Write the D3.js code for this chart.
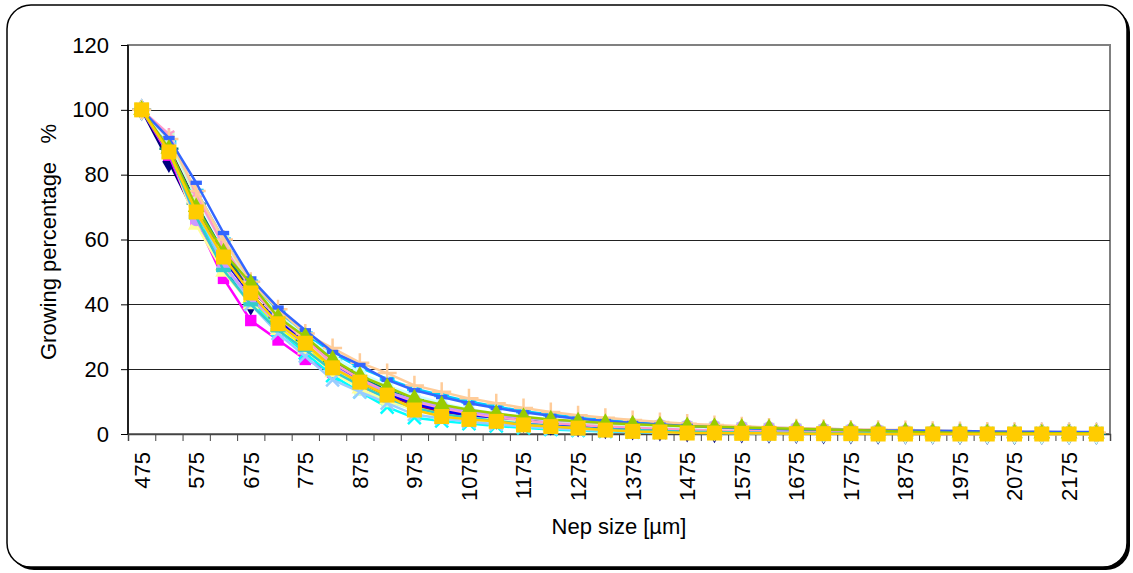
<!DOCTYPE html>
<html>
<head>
<meta charset="utf-8">
<script src="https://cdn.jsdelivr.net/npm/d3@7"></script>
<style>
  body { margin:0; background:#fff; }
  svg { font-family: "Liberation Sans", Arial, sans-serif; }
  .axis text { font-size:22px; fill:#000; }
</style>
</head>
<body>
<div id="canvas"></div>
<script>
// categories (nep size, micrometre)
var cats = [475,525,575,625,675,725,775,825,875,925,975,1025,1075,1125,1175,1225,1275,1325,1375,1425,
            1475,1525,1575,1625,1675,1725,1775,1825,1875,1925,1975,2025,2075,2125,2175,2225];
var yTicks = [0,20,40,60,80,100,120];

// growing percentage, one array per sample
var s01 = [100,84,67,51,40,36,27,21,16,12.5,9.5,7.5,6,4.8,3.8,3,2.4,1.9,1.5,1.2,0.9,0.7,0.6,0.5,0.4,0.3,0.3,0.2,0.2,0.2,0.1,0.1,0.1,0.1,0.1,0.1];
var s02 = [100,86,66,48,35,29,23,19,14.5,11,8,6,4.8,3.8,3,2.3,1.8,1.4,1.1,0.8,0.6,0.5,0.4,0.3,0.2,0.2,0.1,0.1,0.1,0,0,0,0,0,0,0];
var s03 = [100,88,70,52,42,33,27,20,15,11.5,8.5,6.5,5.2,4.2,3.2,2.5,2,1.6,1.2,1,0.8,0.6,0.5,0.4,0.3,0.3,0.2,0.2,0.1,0.1,0.1,0.1,0,0,0,0];
var s04 = [100,87,68,52,41,32,25,18,13,8.3,5,4,3.2,2.5,1.9,1.4,1.1,0.8,0.6,0.5,0.4,0.3,0.3,0.2,0.2,0.2,0.1,0.1,0.1,0.1,0.1,0.1,0.1,0.1,0.1,0.1];
var s05 = [100,88,70,54,43,35,28,21,16,12,9,7,5.5,4.5,3.5,2.8,2.2,1.8,1.4,1.1,0.9,0.7,0.6,0.5,0.4,0.3,0.3,0.2,0.2,0.2,0.1,0.1,0.1,0.1,0.1,0.1];
var s06 = [100,89,71,55,44,37.6,29,22,17,13,10,7.8,6.2,5,4,3.2,2.6,2.1,1.7,1.4,1.1,0.9,0.7,0.6,0.5,0.4,0.3,0.3,0.2,0.2,0.2,0.1,0.1,0.1,0.1,0.1];
var s07 = [100,88,71,56,45,36,29,22.5,17.5,13.5,10.5,8.2,6.5,5.3,4.3,3.5,2.8,2.3,1.9,1.5,1.2,1,0.8,0.7,0.6,0.5,0.4,0.3,0.3,0.2,0.2,0.2,0.1,0.1,0.1,0.1];
var s08 = [100,87,70,54,43,35,28,21.5,16.5,12.5,9.5,7.3,5.8,4.6,3.7,2.9,2.3,1.9,1.5,1.2,1,0.8,0.7,0.6,0.5,0.4,0.4,0.3,0.3,0.3,0.2,0.2,0.2,0.2,0.2,0.2];
var s09 = [100,90,75,60,47,38,31,25,20.5,17,14,12,10,8.5,7,6,5,4.3,3.6,3,2.5,2.1,1.8,1.5,1.3,1.1,1,0.9,0.8,0.7,0.6,0.5,0.5,0.4,0.4,0.3];
var s10 = [100,90,73,58,46,37,30,24,19,15,12,9.5,7.7,6.3,5.1,4.2,3.4,2.8,2.3,1.9,1.5,1.2,1,0.8,0.7,0.6,0.5,0.4,0.3,0.3,0.2,0.2,0.2,0.1,0.1,0.1];
var s11 = [100,91.5,73,60,46,37,29,21,13.5,10,7.5,6,5,4.3,3.8,3.4,3.1,2.9,2.7,2.5,2.3,2.1,1.9,1.7,1.5,1.3,1.1,0.9,0.8,0.7,0.6,0.5,0.4,0.3,0.2,0.2];
var s12 = [100,88,64.5,50,40,32,26,19,14,10.5,7.5,5.8,4.6,3.6,2.8,2.2,1.7,1.3,1,0.8,0.6,0.5,0.4,0.3,0.2,0.2,0.1,0.1,0.1,0.1,0,0,0,0,0,0];
var s13 = [100,88,69,53,40,31,24,16.7,13,9.5,6,4.8,3.8,3,2.3,1.7,1.3,1,0.7,0.5,0.4,0.3,0.2,0.2,0.1,0.1,0.1,0.1,0,0,0,0,0,0,0,0];
var s14 = [100,92.5,74,58,45,36,29,22,17,13,10,8,6.4,5.2,4.2,3.4,2.8,2.3,1.9,1.6,1.3,1.1,0.9,0.8,0.7,0.6,0.5,0.4,0.4,0.3,0.3,0.2,0.2,0.2,0.2,0.2];
var s15 = [100,88,66,52,42,34,27.5,21,16,13,10.5,8.5,7,5.8,5,4.3,3.8,3.4,3.1,2.8,2.6,2.4,2.2,2,1.8,1.6,1.4,1.2,1,0.8,0.7,0.6,0.5,0.4,0.3,0.3];
var s16 = [100,91,75,60,47,38.5,31,26.5,22,18.8,15,13,11,9.5,8,6.8,5.8,5,4.3,3.7,3.2,2.8,2.4,2,1.8,1.6,1.4,1.3,1.2,1,0.9,0.8,0.7,0.6,0.6,0.5];
var s17 = [100,91.3,77.5,62,48,39,32,25.3,21.3,16.7,13.5,11.4,9.5,8,6.7,5.6,4.7,4,3.4,2.9,2.5,2.1,1.8,1.6,1.4,1.3,1.2,1.1,1.1,1,0.9,0.8,0.7,0.7,0.6,0.6];
var s18 = [100,87,67,50.6,40,32,26,19.5,15,11,8,6.2,5,4,3.1,2.4,1.9,1.5,1.2,0.9,0.7,0.6,0.5,0.4,0.3,0.3,0.2,0.2,0.2,0.1,0.1,0.1,0.1,0.1,0.1,0.1];
var s19 = [100,88,70,56,46.5,36,30,23,18,14.5,11,9,7.5,6.3,5.3,4.5,3.9,3.4,3,2.7,2.4,2.2,2,1.8,1.6,1.4,1.2,1,0.7,0.5,0.4,0.3,0.3,0.2,0.2,0.2];
var s20 = [100,87,68.5,54.6,43.5,34,28,20.4,16,12,7.4,5.4,4.5,3.9,2.8,2.3,1.8,1.2,0.8,0.6,0.3,0.3,0.2,0.2,0.1,0.1,0.1,0,0,0,0,0,0,0,0,0];

var series = [s01,s02,s03,s04,s05,s06,s07,s08,s09,s10,s11,s12,s13,s14,s15,s16,s17,s18,s19,s20];

// styles (excel palette + marker cycle)
var colors = ['#000080','#FF00FF','#FFFF00','#00FFFF','#800080','#800000','#008080','#0000FF','#00CCFF','#CCFFFF',
              '#CCFFCC','#FFFF99','#99CCFF','#FF99CC','#CC99FF','#FFCC99','#3366FF','#33CCCC','#99CC00','#FFCC00'];
var markers = ['diamond','square','triangle','x','star','circle','plus','dash','longdash','diamond',
               'square','triangle','x','star','circle','plus','dash','longdash','triangle','square'];

var W = 1133, H = 573;
var m = {t:45, r:23, b:139, l:128};
var w = W - m.l - m.r, h = H - m.t - m.b;

var svg = d3.select('#canvas').append('svg')
    .attr('width', W).attr('height', H);

// rounded frame with shadow
svg.append('rect').attr('x',10).attr('y',8).attr('width',1120).attr('height',562)
    .attr('rx',24).attr('fill','#000');
svg.append('rect').attr('x',7).attr('y',5).attr('width',1120).attr('height',562)
    .attr('rx',24).attr('fill','#fff').attr('stroke','#000').attr('stroke-width',1.5);

var plot = svg.append('g').attr('transform','translate(' + m.l + ',' + m.t + ')');

var x = d3.scaleBand().domain(cats).range([0,w]);
var xi = d3.scaleLinear().domain([0,cats.length]).range([0,w]);
var y = d3.scaleLinear().domain([0,120]).range([h,0]);

// plot border
plot.append('rect').attr('x',0).attr('y',0).attr('width',w).attr('height',h)
    .attr('fill','none').attr('stroke','#808080').attr('stroke-width',2);

// gridlines
plot.append('g').selectAll('line').data(yTicks.filter(function(d){return d>0 && d<120;}))
    .enter().append('line')
    .attr('x1',0).attr('x2',w)
    .attr('y1',function(d){return Math.round(y(d))+0.5;})
    .attr('y2',function(d){return Math.round(y(d))+0.5;})
    .attr('stroke','#222').attr('stroke-width',1);

// y axis
var axisY = d3.axisLeft(y).tickValues(yTicks).tickSize(7).tickPadding(12);
var gy = plot.append('g').attr('class','axis').call(axisY);
gy.select('.domain').remove();
gy.selectAll('line').attr('stroke','#000');
plot.append('line').attr('x1',0).attr('x2',0).attr('y1',0).attr('y2',h)
    .attr('stroke','#000').attr('stroke-width',1.5);

// x axis: ticks on category boundaries, labels on every other category
var axisX = d3.axisBottom(xi).tickValues(d3.range(cats.length+1)).tickSize(7).tickFormat('');
var gx = plot.append('g').attr('class','axis').attr('transform','translate(0,' + h + ')').call(axisX);
gx.select('.domain').attr('stroke','#444').attr('stroke-width',1.5);
gx.selectAll('line').attr('stroke','#444');

var axisXL = d3.axisBottom(x).tickValues(cats.filter(function(d,i){return i%2===0;})).tickSize(0).tickPadding(0);
var gxl = plot.append('g').attr('class','axis').attr('transform','translate(0,' + h + ')').call(axisXL);
gxl.select('.domain').remove();
gxl.selectAll('text')
    .attr('transform','rotate(-90)')
    .attr('x',-18).attr('y',0).attr('dy','0.36em')
    .style('text-anchor','end');

// series
var line = d3.line()
    .x(function(d,i){return x(cats[i]) + x.bandwidth()/2;})
    .y(function(d){return y(d);});

function bar(ratio){
  return { draw: function(ctx,size){ var s=Math.sqrt(size), bw=s*ratio, bh=s*0.38;
    ctx.rect(-bw/2,-bh/2,bw,bh); } };
}
var symTypes = {
  diamond: {t:d3.symbolDiamond, size:150, fill:true},
  square: {t:d3.symbolSquare, size:130, fill:true},
  triangle: {t:d3.symbolTriangle, size:120, fill:true},
  x: {t:d3.symbolTimes, size:110, fill:false},
  star: {t:d3.symbolAsterisk, size:110, fill:false},
  circle: {t:d3.symbolCircle, size:120, fill:true},
  plus: {t:d3.symbolPlus, size:120, fill:false},
  dash: {t:bar(1.0), size:130, fill:true},
  longdash: {t:bar(1.3), size:130, fill:true}
};

series.forEach(function(vals,k){
  var g = plot.append('g');
  g.append('path').datum(vals)
    .attr('d',line).attr('fill','none')
    .attr('stroke',colors[k]).attr('stroke-width',2.5).attr('stroke-linejoin','round');
  var st = symTypes[markers[k]];
  var size = (k===19) ? 225 : st.size;
  g.selectAll('path.mk').data(vals).enter().append('path')
    .attr('class','mk')
    .attr('transform',function(d,i){return 'translate(' + (x(cats[i]) + x.bandwidth()/2) + ',' + y(d) + ')';})
    .attr('d', d3.symbol().type(st.t).size(size))
    .attr('fill', st.fill ? colors[k] : 'none')
    .attr('stroke', colors[k])
    .attr('stroke-width', st.fill ? 0 : 2.5);
});

// axis titles
svg.append('text').attr('x',619).attr('y',534).attr('text-anchor','middle')
    .style('font-size','22px').text('Nep size [\u00b5m]');
svg.append('text').attr('transform','translate(56,242) rotate(-90)').attr('text-anchor','middle')
    .style('font-size','22px').style('white-space','pre').text('Growing percentage   %');
</script>
</body>
</html>
